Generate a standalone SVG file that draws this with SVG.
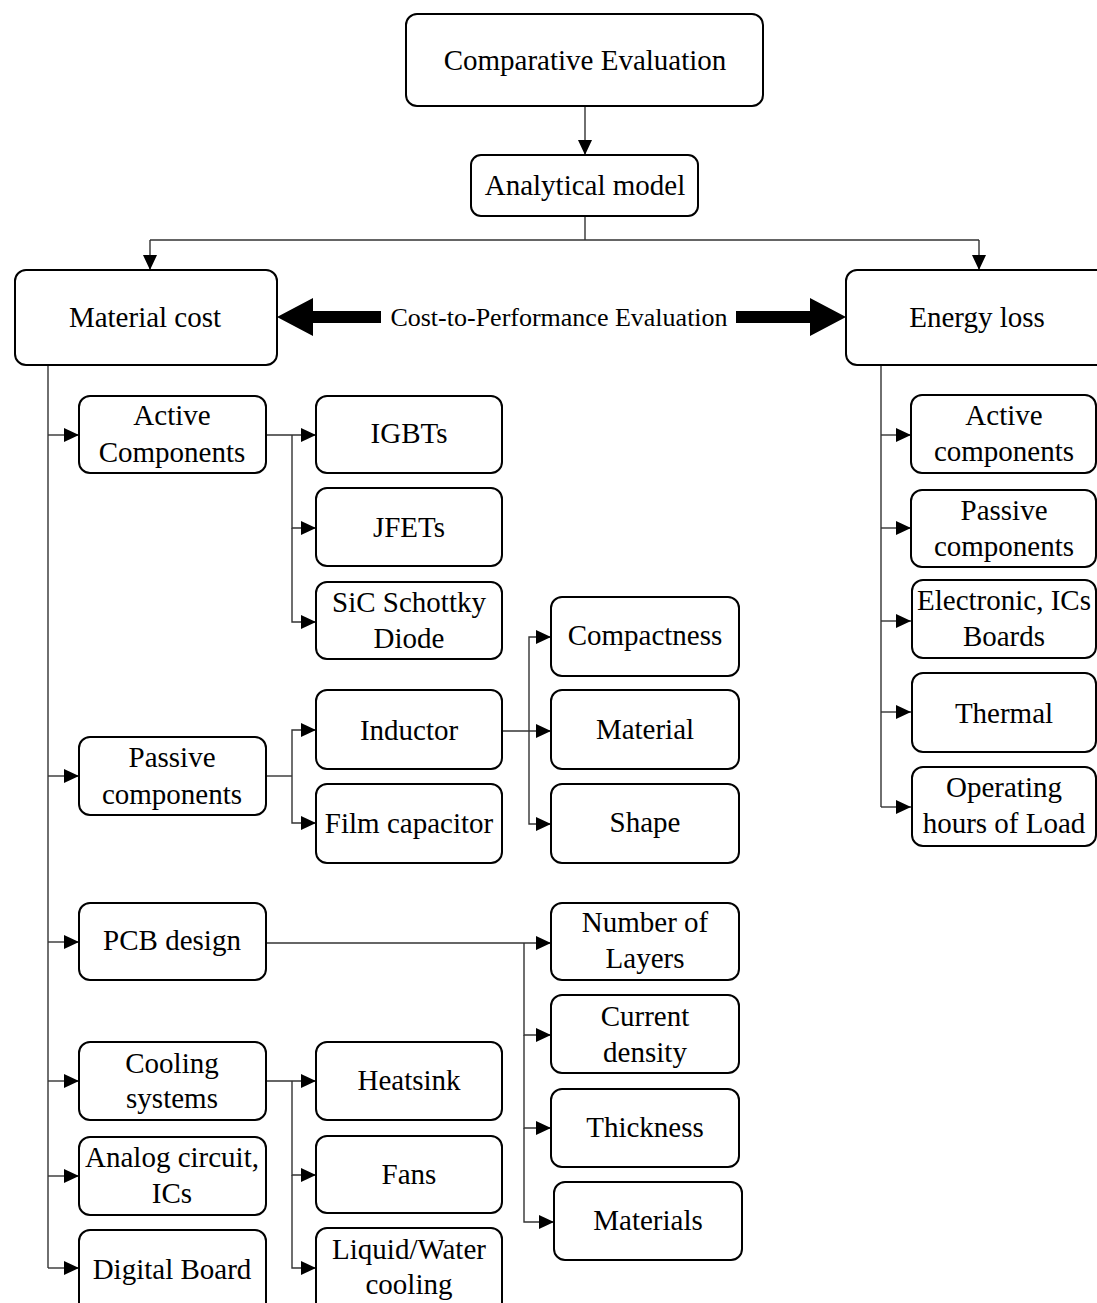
<svg xmlns="http://www.w3.org/2000/svg" width="1097" height="1303" viewBox="0 0 1097 1303">
  <style>
    .box { fill: #ffffff; stroke: #000000; stroke-width: 2; }
    .lbl { font-family: "Liberation Serif", "Times New Roman", serif; font-size: 29px; fill: #000000; text-anchor: middle; }
    .sub { font-family: "Liberation Serif", "Times New Roman", serif; font-size: 26px; fill: #000000; text-anchor: middle; }
    .wire { fill: none; stroke: #333333; stroke-width: 1.4; }
    .arr { marker-end: url(#head); }
    .big { fill: #000000; }
  </style>
  <defs>
    <marker id="head" markerUnits="userSpaceOnUse" markerWidth="16" markerHeight="14" refX="15" refY="7" orient="auto">
      <path d="M0,0 L15,7 L0,14 Z" fill="#000000"/>
    </marker>
  </defs>

  <rect width="1097" height="1303" fill="#ffffff"/>

  <!-- connectors -->
  <g id="connectors">
    <path class="wire arr" d="M585,106 V155"/>
    <path class="wire" d="M585,216 V240 M150,240 H979"/>
    <path class="wire arr" d="M150,240 V270"/>
    <path class="wire arr" d="M979,240 V270"/>

    <!-- material cost trunk -->
    <path class="wire" d="M48,364 V1268"/>
    <path class="wire arr" d="M48,435 H79"/>
    <path class="wire arr" d="M48,776 H79"/>
    <path class="wire arr" d="M48,942 H79"/>
    <path class="wire arr" d="M48,1081 H79"/>
    <path class="wire arr" d="M48,1176 H79"/>
    <path class="wire arr" d="M48,1268 H79"/>

    <!-- active components -->
    <path class="wire arr" d="M266,435 H316"/>
    <path class="wire arr" d="M292,435 V528 H316"/>
    <path class="wire arr" d="M292,528 V622 H316"/>

    <!-- passive components -->
    <path class="wire" d="M266,776 H292"/>
    <path class="wire arr" d="M292,776 V730 H316"/>
    <path class="wire arr" d="M292,776 V823 H316"/>

    <!-- inductor -->
    <path class="wire arr" d="M502,731 H551"/>
    <path class="wire arr" d="M529,731 V637 H551"/>
    <path class="wire arr" d="M529,731 V824 H551"/>

    <!-- PCB design -->
    <path class="wire arr" d="M266,943 H551"/>
    <path class="wire arr" d="M524,943 V1035 H551"/>
    <path class="wire arr" d="M524,1035 V1128 H551"/>
    <path class="wire arr" d="M524,1128 V1222 H554"/>

    <!-- cooling systems -->
    <path class="wire arr" d="M266,1081 H316"/>
    <path class="wire arr" d="M292,1081 V1175 H316"/>
    <path class="wire arr" d="M292,1175 V1268 H316"/>

    <!-- energy loss trunk -->
    <path class="wire" d="M881,364 V807"/>
    <path class="wire arr" d="M881,435 H911"/>
    <path class="wire arr" d="M881,528 H911"/>
    <path class="wire arr" d="M881,621 H911"/>
    <path class="wire arr" d="M881,712 H911"/>
    <path class="wire arr" d="M881,807 H911"/>

    <!-- cost-to-performance block arrows -->
    <path class="big" d="M277,317 L313,298 L313,311 L381,311 L381,323 L313,323 L313,336 Z"/>
    <path class="big" d="M846,317 L810,298 L810,311 L736,311 L736,323 L810,323 L810,336 Z"/>
  </g>

  <text class="sub" x="559" y="326">Cost-to-Performance Evaluation</text>

  <g id="n-comparative">
    <rect class="box" x="406" y="14" width="357" height="92" rx="11"/>
    <text class="lbl" x="585" y="70">Comparative Evaluation</text>
  </g>
  <g id="n-analytical">
    <rect class="box" x="471" y="155" width="227" height="61" rx="10"/>
    <text class="lbl" x="585" y="195">Analytical model</text>
  </g>
  <g id="n-material-cost">
    <rect class="box" x="15" y="270" width="262" height="95" rx="11"/>
    <text class="lbl" x="145" y="327">Material cost</text>
  </g>
  <g id="n-energy-loss">
    <rect class="box" x="846" y="270" width="262" height="95" rx="11"/>
    <text class="lbl" x="977" y="327">Energy loss</text>
  </g>

  <!-- material cost branch -->
  <g id="n-active">
    <rect class="box" x="79" y="396" width="187" height="77" rx="11"/>
    <text class="lbl" x="172" y="425">Active</text>
    <text class="lbl" x="172" y="462">Components</text>
  </g>
  <g id="n-igbts">
    <rect class="box" x="316" y="396" width="186" height="77" rx="11"/>
    <text class="lbl" x="409" y="443">IGBTs</text>
  </g>
  <g id="n-jfets">
    <rect class="box" x="316" y="488" width="186" height="78" rx="11"/>
    <text class="lbl" x="409" y="537">JFETs</text>
  </g>
  <g id="n-sic">
    <rect class="box" x="316" y="582" width="186" height="77" rx="11"/>
    <text class="lbl" x="409" y="612">SiC Schottky</text>
    <text class="lbl" x="409" y="648">Diode</text>
  </g>
  <g id="n-passive">
    <rect class="box" x="79" y="737" width="187" height="78" rx="11"/>
    <text class="lbl" x="172" y="767">Passive</text>
    <text class="lbl" x="172" y="804">components</text>
  </g>
  <g id="n-inductor">
    <rect class="box" x="316" y="690" width="186" height="79" rx="11"/>
    <text class="lbl" x="409" y="740">Inductor</text>
  </g>
  <g id="n-film">
    <rect class="box" x="316" y="784" width="186" height="79" rx="11"/>
    <text class="lbl" x="409" y="833">Film capacitor</text>
  </g>
  <g id="n-compactness">
    <rect class="box" x="551" y="597" width="188" height="79" rx="11"/>
    <text class="lbl" x="645" y="645">Compactness</text>
  </g>
  <g id="n-material">
    <rect class="box" x="551" y="690" width="188" height="79" rx="11"/>
    <text class="lbl" x="645" y="739">Material</text>
  </g>
  <g id="n-shape">
    <rect class="box" x="551" y="784" width="188" height="79" rx="11"/>
    <text class="lbl" x="645" y="832">Shape</text>
  </g>
  <g id="n-pcb">
    <rect class="box" x="79" y="903" width="187" height="77" rx="11"/>
    <text class="lbl" x="172" y="950">PCB design</text>
  </g>
  <g id="n-layers">
    <rect class="box" x="551" y="903" width="188" height="77" rx="11"/>
    <text class="lbl" x="645" y="932">Number of</text>
    <text class="lbl" x="645" y="968">Layers</text>
  </g>
  <g id="n-current">
    <rect class="box" x="551" y="995" width="188" height="78" rx="11"/>
    <text class="lbl" x="645" y="1026">Current</text>
    <text class="lbl" x="645" y="1062">density</text>
  </g>
  <g id="n-thickness">
    <rect class="box" x="551" y="1089" width="188" height="78" rx="11"/>
    <text class="lbl" x="645" y="1137">Thickness</text>
  </g>
  <g id="n-materials">
    <rect class="box" x="554" y="1182" width="188" height="78" rx="11"/>
    <text class="lbl" x="648" y="1230">Materials</text>
  </g>
  <g id="n-cooling">
    <rect class="box" x="79" y="1042" width="187" height="78" rx="11"/>
    <text class="lbl" x="172" y="1073">Cooling</text>
    <text class="lbl" x="172" y="1108">systems</text>
  </g>
  <g id="n-heatsink">
    <rect class="box" x="316" y="1042" width="186" height="78" rx="11"/>
    <text class="lbl" x="409" y="1090">Heatsink</text>
  </g>
  <g id="n-fans">
    <rect class="box" x="316" y="1136" width="186" height="77" rx="11"/>
    <text class="lbl" x="409" y="1184">Fans</text>
  </g>
  <g id="n-liquid">
    <rect class="box" x="316" y="1228" width="186" height="90" rx="11"/>
    <text class="lbl" x="409" y="1259">Liquid/Water</text>
    <text class="lbl" x="409" y="1294">cooling</text>
  </g>
  <g id="n-analog">
    <rect class="box" x="79" y="1137" width="187" height="78" rx="11"/>
    <text class="lbl" x="172" y="1167">Analog circuit,</text>
    <text class="lbl" x="172" y="1203">ICs</text>
  </g>
  <g id="n-digital">
    <rect class="box" x="79" y="1230" width="187" height="88" rx="11"/>
    <text class="lbl" x="172" y="1279">Digital Board</text>
  </g>

  <!-- energy loss branch -->
  <g id="n-e-active">
    <rect class="box" x="911" y="395" width="185" height="78" rx="11"/>
    <text class="lbl" x="1004" y="425">Active</text>
    <text class="lbl" x="1004" y="461">components</text>
  </g>
  <g id="n-e-passive">
    <rect class="box" x="911" y="490" width="185" height="77" rx="11"/>
    <text class="lbl" x="1004" y="520">Passive</text>
    <text class="lbl" x="1004" y="556">components</text>
  </g>
  <g id="n-e-electronic">
    <rect class="box" x="912" y="580" width="184" height="78" rx="11"/>
    <text class="lbl" x="1004" y="610">Electronic, ICs</text>
    <text class="lbl" x="1004" y="646">Boards</text>
  </g>
  <g id="n-e-thermal">
    <rect class="box" x="912" y="673" width="184" height="79" rx="11"/>
    <text class="lbl" x="1004" y="723">Thermal</text>
  </g>
  <g id="n-e-operating">
    <rect class="box" x="912" y="767" width="184" height="79" rx="11"/>
    <text class="lbl" x="1004" y="797">Operating</text>
    <text class="lbl" x="1004" y="833">hours of Load</text>
  </g>
</svg>
